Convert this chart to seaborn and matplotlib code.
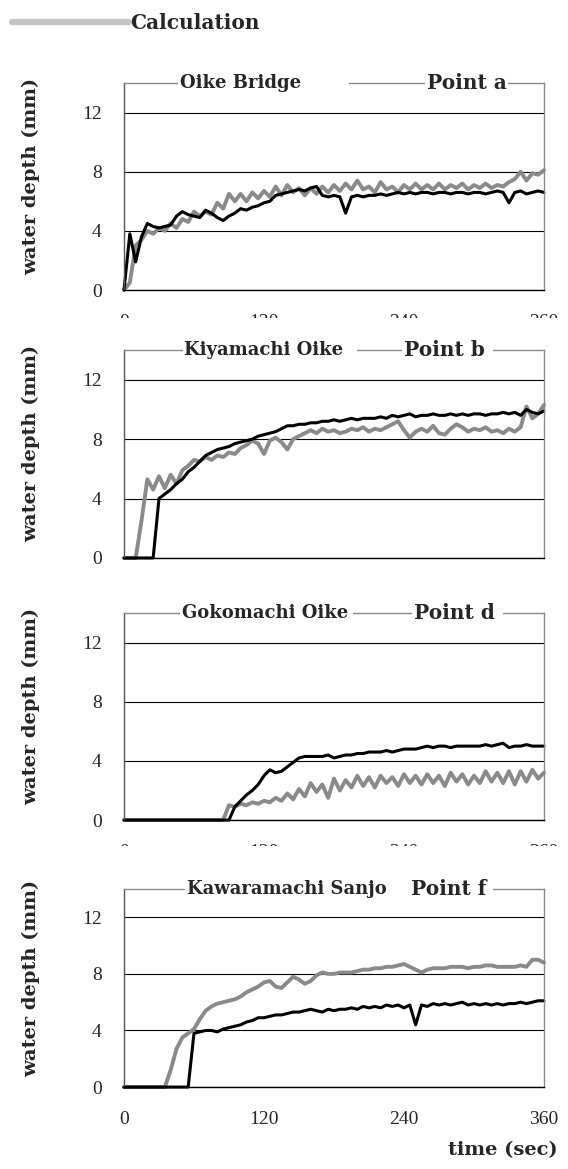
import numpy as np
import matplotlib.pyplot as plt
import seaborn as sns
from matplotlib.lines import Line2D
from matplotlib.patches import Rectangle
from matplotlib.transforms import Bbox, TransformedBbox

# time axis (sec), one reading every 5 s
time_sec = np.arange(0, 361, 5)

# Point a - Oike Bridge
meas_a = [0.0, 3.8, 1.9, 3.6, 4.5, 4.3, 4.2, 4.3, 4.4, 5.0,
          5.3, 5.1, 5.0, 4.9, 5.4, 5.2, 4.9, 4.7, 5.0, 5.2,
          5.5, 5.4, 5.6, 5.7, 5.9, 6.0, 6.4, 6.5, 6.6, 6.7,
          6.8, 6.7, 6.9, 7.0, 6.4, 6.3, 6.4, 6.3, 5.2, 6.3,
          6.4, 6.3, 6.4, 6.4, 6.5, 6.4, 6.5, 6.6, 6.5, 6.6,
          6.5, 6.6, 6.6, 6.5, 6.6, 6.6, 6.5, 6.6, 6.6, 6.5,
          6.6, 6.6, 6.5, 6.6, 6.7, 6.6, 5.9, 6.6, 6.7, 6.5,
          6.6, 6.7, 6.6]
calc_a = [0.0, 0.5, 3.0, 3.4, 4.0, 3.8, 4.2, 4.0, 4.5, 4.2,
          4.8, 4.6, 5.3, 5.0, 5.3, 5.1, 5.9, 5.5, 6.5, 6.0,
          6.5, 6.0, 6.6, 6.2, 6.7, 6.3, 7.0, 6.4, 7.1, 6.6,
          6.9, 6.4, 6.9, 6.5, 7.0, 6.6, 7.1, 6.7, 7.2, 6.8,
          7.4, 6.8, 7.0, 6.6, 7.3, 6.8, 7.0, 6.6, 7.1, 6.8,
          7.2, 6.8, 7.1, 6.8, 7.2, 6.8, 7.1, 6.9, 7.2, 6.8,
          7.1, 6.9, 7.2, 6.9, 7.1, 7.0, 7.3, 7.5, 8.0, 7.4,
          7.9, 7.8, 8.1]

# Point b - Kiyamachi Oike
meas_b = [0.0, 0.0, 0.0, 0.0, 0.0, 0.0, 4.0, 4.3, 4.6, 5.0,
          5.3, 5.8, 6.1, 6.5, 6.9, 7.1, 7.3, 7.4, 7.5, 7.7,
          7.8, 7.9, 8.0, 8.2, 8.3, 8.4, 8.5, 8.7, 8.9, 8.9,
          9.0, 9.0, 9.1, 9.1, 9.2, 9.2, 9.3, 9.2, 9.3, 9.4,
          9.3, 9.4, 9.4, 9.4, 9.5, 9.4, 9.6, 9.5, 9.6, 9.7,
          9.5, 9.6, 9.6, 9.7, 9.6, 9.6, 9.7, 9.6, 9.7, 9.6,
          9.7, 9.7, 9.6, 9.7, 9.7, 9.8, 9.7, 9.8, 9.6, 10.0,
          9.8, 9.7, 9.9]
calc_b = [0.0, 0.0, 0.0, 2.5, 5.3, 4.6, 5.5, 4.7, 5.6, 5.0,
          5.9, 6.2, 6.6, 6.5, 6.8, 6.6, 6.9, 6.8, 7.1, 7.0,
          7.4, 7.6, 7.9, 7.7, 7.0, 7.9, 8.1, 7.8, 7.3, 8.0,
          8.2, 8.4, 8.6, 8.4, 8.7, 8.5, 8.6, 8.4, 8.5, 8.7,
          8.6, 8.8, 8.5, 8.7, 8.6, 8.8, 9.0, 9.2, 8.6, 8.1,
          8.5, 8.7, 8.5, 8.9, 8.4, 8.3, 8.7, 9.0, 8.8, 8.5,
          8.7, 8.6, 8.8, 8.5, 8.6, 8.4, 8.7, 8.5, 8.8, 10.2,
          9.4, 9.7, 10.3]

# Point d - Gokomachi Oike
meas_d = [0.0, 0.0, 0.0, 0.0, 0.0, 0.0, 0.0, 0.0, 0.0, 0.0,
          0.0, 0.0, 0.0, 0.0, 0.0, 0.0, 0.0, 0.0, 0.0, 0.9,
          1.3, 1.7, 2.0, 2.4, 3.0, 3.4, 3.2, 3.3, 3.6, 3.9,
          4.2, 4.3, 4.3, 4.3, 4.3, 4.4, 4.2, 4.3, 4.4, 4.4,
          4.5, 4.5, 4.6, 4.6, 4.6, 4.7, 4.6, 4.7, 4.8, 4.8,
          4.8, 4.9, 5.0, 4.9, 5.0, 5.0, 4.9, 5.0, 5.0, 5.0,
          5.0, 5.0, 5.1, 5.0, 5.1, 5.2, 4.9, 5.0, 5.0, 5.1,
          5.0, 5.0, 5.0]
calc_d = [0.0, 0.0, 0.0, 0.0, 0.0, 0.0, 0.0, 0.0, 0.0, 0.0,
          0.0, 0.0, 0.0, 0.0, 0.0, 0.0, 0.0, 0.0, 1.0, 0.9,
          1.1, 1.0, 1.2, 1.1, 1.3, 1.2, 1.5, 1.3, 1.8, 1.4,
          2.1, 1.6, 2.5, 1.9, 2.4, 1.5, 2.8, 2.0, 2.7, 2.2,
          3.0, 2.3, 2.9, 2.2, 3.0, 2.5, 2.9, 2.3, 3.1, 2.5,
          3.0, 2.4, 3.1, 2.5, 3.0, 2.3, 3.2, 2.6, 3.1, 2.4,
          3.0, 2.5, 3.3, 2.6, 3.2, 2.5, 3.3, 2.4, 3.3, 2.6,
          3.4, 2.8, 3.2]

# Point f - Kawaramachi Sanjo
meas_f = [0.0, 0.0, 0.0, 0.0, 0.0, 0.0, 0.0, 0.0, 0.0, 0.0,
          0.0, 0.0, 3.8, 3.9, 4.0, 4.0, 3.9, 4.1, 4.2, 4.3,
          4.4, 4.6, 4.7, 4.9, 4.9, 5.0, 5.1, 5.1, 5.2, 5.3,
          5.3, 5.4, 5.5, 5.4, 5.3, 5.5, 5.4, 5.5, 5.5, 5.6,
          5.5, 5.7, 5.6, 5.7, 5.6, 5.8, 5.7, 5.8, 5.6, 5.8,
          4.4, 5.8, 5.7, 5.9, 5.8, 5.9, 5.8, 5.9, 6.0, 5.8,
          5.9, 5.8, 5.9, 5.8, 5.9, 5.8, 5.9, 5.9, 6.0, 5.9,
          6.0, 6.1, 6.1]
calc_f = [0.0, 0.0, 0.0, 0.0, 0.0, 0.0, 0.0, 0.0, 1.2, 2.7,
          3.5, 3.8, 4.1, 4.8, 5.4, 5.7, 5.9, 6.0, 6.1, 6.2,
          6.4, 6.7, 6.9, 7.1, 7.4, 7.5, 7.1, 7.0, 7.4, 7.8,
          7.6, 7.3, 7.5, 7.9, 8.1, 8.0, 8.0, 8.1, 8.1, 8.1,
          8.2, 8.3, 8.3, 8.4, 8.4, 8.5, 8.5, 8.6, 8.7, 8.5,
          8.3, 8.1, 8.3, 8.4, 8.4, 8.4, 8.5, 8.5, 8.5, 8.4,
          8.5, 8.5, 8.6, 8.6, 8.5, 8.5, 8.5, 8.5, 8.6, 8.5,
          9.0, 9.0, 8.8]

stations = ["Oike Bridge", "Kiyamachi Oike", "Gokomachi Oike", "Kawaramachi Sanjo"]
points = ["Point a", "Point b", "Point d", "Point f"]
measured = [meas_a, meas_b, meas_d, meas_f]
calculated = [calc_a, calc_b, calc_d, calc_f]
x_ticks = [0, 120, 240, 360]
y_ticks = [0, 4, 8, 12]

sns.set_style("white")
plt.rcParams["font.family"] = ["DejaVu Serif", "DejaVu Sans"]

CALC_GRAY = "#8a8a8a"
tick_font = {"family": "Liberation Serif", "size": 14}
bold_font = {"family": "DejaVu Serif", "weight": "bold", "size": 14}

fig = plt.figure(figsize=(5.68, 11.69), dpi=100)

# axes boxes (figure fraction) and the breaks in the top frame line
frames = [(0.2183, 0.7519, 0.7394, 0.1771),
          (0.2183, 0.5227, 0.7394, 0.1779),
          (0.2183, 0.2985, 0.7394, 0.1771),
          (0.2183, 0.0701, 0.7394, 0.1694)]
gaps = [[(0.129, 0.536), (0.717, 0.914)],
        [(0.140, 0.555), (0.662, 0.879)],
        [(0.133, 0.545), (0.686, 0.902)],
        [(0.145, 0.670), (0.670, 0.879)]]
# tick labels of the upper panels are partly hidden by the panel below
label_cut = [1 - 318 / 1169, None, 1 - 846 / 1169, 0.0]

for i in range(4):
    ax = fig.add_axes(frames[i])
    sns.lineplot(x=time_sec, y=calculated[i], ax=ax, color=CALC_GRAY,
                 linewidth=2.8, clip_on=False)
    sns.lineplot(x=time_sec, y=measured[i], ax=ax, color="black",
                 linewidth=2.2, clip_on=False)
    ax.set_xlim(0, 360)
    ax.set_ylim(0, 14)
    ax.set_xticks(x_ticks)
    ax.set_yticks(y_ticks)
    ax.set_axisbelow(True)
    ax.grid(axis="y", color="black", linewidth=0.8)
    ax.grid(axis="x", visible=False)
    ax.tick_params(axis="x", direction="in", length=5, width=0.8, pad=17, color="#333333")
    ax.tick_params(axis="y", direction="in", length=5, width=0.8, pad=16, color="#333333")
    for lab in ax.get_xticklabels() + ax.get_yticklabels():
        lab.set_fontfamily(tick_font["family"])
        lab.set_fontsize(tick_font["size"])

    for side in ["top", "right"]:
        ax.spines[side].set_color("#8a8a8a")
        ax.spines[side].set_linewidth(1.0)
    ax.spines["left"].set_color("#555555")
    ax.spines["bottom"].set_color("black")
    ax.spines["left"].set_linewidth(1.0)
    ax.spines["bottom"].set_linewidth(1.0)

    # title boxes sitting on the top frame line
    for x0, x1 in gaps[i]:
        ax.add_patch(Rectangle((x0, 0.96), x1 - x0, 0.08, transform=ax.transAxes,
                               facecolor="white", edgecolor="none", clip_on=False, zorder=4))
    ax.text(gaps[i][0][0] + 0.004, 1.0, stations[i], transform=ax.transAxes,
            ha="left", va="center", family="DejaVu Serif", weight="bold",
            size=13, zorder=5, clip_on=False)
    ax.text(gaps[i][1][0] + 0.004 if i < 3 else 0.683, 1.0, points[i], transform=ax.transAxes,
            ha="left", va="center", family="DejaVu Serif", weight="bold",
            size=14.5, zorder=5, clip_on=False)

    ax.set_ylabel("water depth (mm)", **bold_font)
    ax.yaxis.set_label_coords(-0.2, 0.55)
    ax.set_xlabel("")

    if label_cut[i] is None:
        ax.tick_params(axis="x", labelbottom=False)
    elif label_cut[i] > 0:
        clip = TransformedBbox(Bbox.from_extents(0, label_cut[i], 1, 1), fig.transFigure)
        for lab in ax.get_xticklabels():
            lab.set_clip_box(clip)
            lab.set_clip_on(True)

    if i == 3:
        ax.set_xlabel("time (sec)", ha="right", va="center", **bold_font)
        ax.xaxis.set_label_coords(1.033, -0.318)

handle = Line2D([], [], color="#c4c4c4", linewidth=4.5)
fig.legend(handles=[handle], labels=["Calculation"], loc="upper left",
           bbox_to_anchor=(0.022, 0.989), frameon=False, borderpad=0,
           borderaxespad=0, handlelength=5.8, handletextpad=0.05,
           prop={"family": "DejaVu Serif", "weight": "bold", "size": 14.5})

fig.savefig("out.png", dpi=100, facecolor="white")
